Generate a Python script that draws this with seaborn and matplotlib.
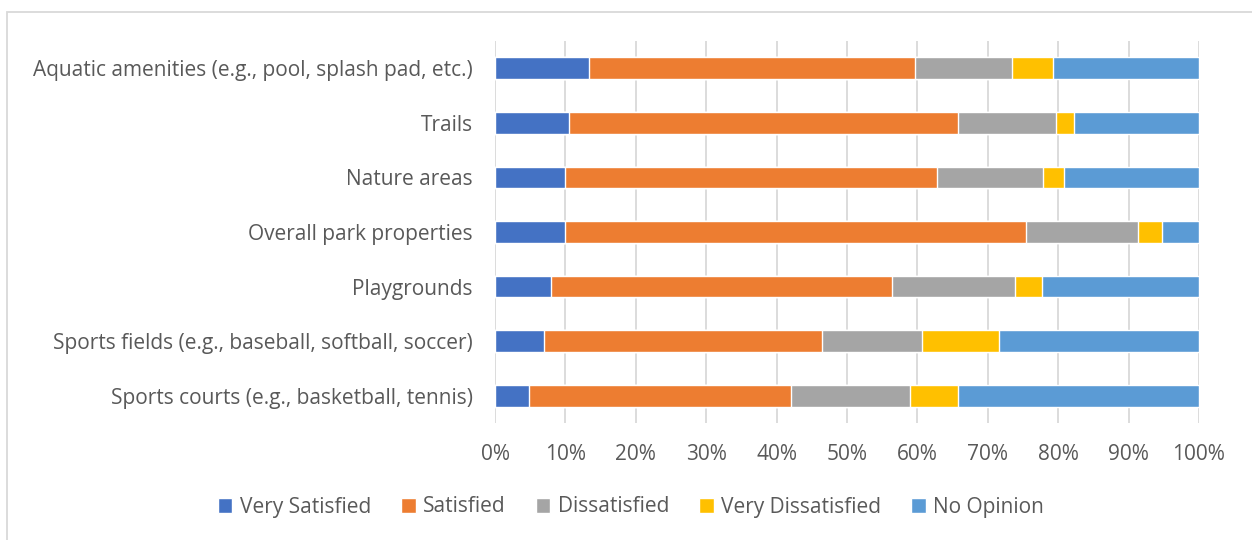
import numpy as np
import pandas as pd
import seaborn as sns
import matplotlib as mpl
from matplotlib import pyplot as plt
from matplotlib.patches import Patch, Rectangle

# park amenity satisfaction (percent of responses)
categories = ['Aquatic amenities (e.g., pool, splash pad, etc.)', 'Trails', 'Nature areas',
              'Overall park properties', 'Playgrounds',
              'Sports fields (e.g., baseball, softball, soccer)',
              'Sports courts (e.g., basketball, tennis)']
series = ['Very Satisfied', 'Satisfied', 'Dissatisfied', 'Very Dissatisfied', 'No Opinion']
very_satisfied = [13.4, 10.5, 10.0, 9.9, 7.9, 7.0, 4.8]
satisfied = [46.2, 55.2, 52.8, 65.5, 48.5, 39.5, 37.2]
dissatisfied = [13.9, 14.0, 15.1, 16.0, 17.5, 14.2, 16.9]
very_dissatisfied = [5.7, 2.6, 2.9, 3.4, 3.8, 10.9, 6.8]
no_opinion = [20.8, 17.7, 19.2, 5.2, 22.3, 28.4, 34.3]
colors = ['#4472C4', '#ED7D31', '#A5A5A5', '#FFC000', '#5B9BD5']
xticks = [0, 10, 20, 30, 40, 50, 60, 70, 80, 90, 100]

sns.set_style('white')
plt.rcParams['font.family'] = ['Open Sans', 'DejaVu Sans']
txt = '#595959'
fs = 15

df = pd.DataFrame({'category': categories, 'Very Satisfied': very_satisfied,
                   'Satisfied': satisfied, 'Dissatisfied': dissatisfied,
                   'Very Dissatisfied': very_dissatisfied, 'No Opinion': no_opinion})
# normalise rows to 100 and stack
vals = df[series].values
vals = vals / vals.sum(axis=1, keepdims=True) * 100
cum = np.cumsum(vals, axis=1)

fig = plt.figure(figsize=(12.52, 5.4), dpi=100)
ax = fig.add_axes([495 / 1252, 1 - 423 / 540, 704 / 1252, (423 - 41) / 540])

# draw from the right-most segment back so the shorter bars sit on top
for i in range(len(series) - 1, -1, -1):
    sns.barplot(x=cum[:, i], y=df['category'], color=colors[i], width=0.4,
                orient='h', saturation=1, ax=ax, zorder=3)

ax.set_xlim(0, 100)
ax.set_xticks(xticks)
ax.set_xticklabels([f'{t}%' for t in xticks])
ax.set_xlabel('')
ax.set_ylabel('')
ax.grid(axis='x', color='#D9D9D9', linewidth=1.3, zorder=0)
ax.set_axisbelow(True)
for s in ax.spines.values():
    s.set_visible(False)
ax.tick_params(axis='x', length=0, pad=15, labelsize=fs, labelcolor=txt)
ax.tick_params(axis='y', length=0, pad=16, labelsize=fs, labelcolor=txt)

handles = [Patch(facecolor=c, label=s) for c, s in zip(colors, series)]
fig.legend(handles=handles, loc='center', bbox_to_anchor=(631 / 1252, 1 - 507 / 540),
           ncol=5, frameon=False, fontsize=fs, labelcolor=txt,
           handlelength=0.7, handleheight=0.7, handletextpad=0.35, columnspacing=1.45)

# chart area border
fig.patches.append(Rectangle((7 / 1252, -0.1), 1.2, 1 - 12 / 540 + 0.1, transform=fig.transFigure,
                             fill=False, edgecolor='#D9D9D9', linewidth=1.3))

fig.savefig('out.png', dpi=100)
